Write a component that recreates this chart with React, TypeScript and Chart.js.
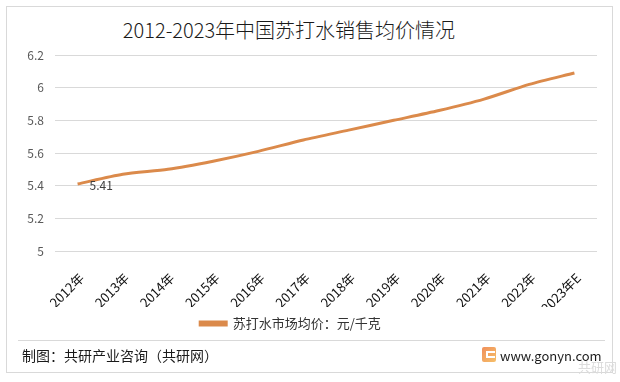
import React, { useEffect, useRef } from "react";
import { Chart, registerables } from "chart.js";

Chart.register(...registerables);

const titleText = "2012-2023年中国苏打水销售均价情况";
const categories = [
  "2012年", "2013年", "2014年", "2015年", "2016年", "2017年",
  "2018年", "2019年", "2020年", "2021年", "2022年", "2023年E",
];
const seriesName = "苏打水市场均价：元/千克";
const avgPrice = [5.41, 5.47, 5.5, 5.55, 5.61, 5.68, 5.74, 5.8, 5.86, 5.93, 6.02, 6.09];
const labeledIndices = [0];
const yTickValues = [5, 5.2, 5.4, 5.6, 5.8, 6, 6.2];
const sourceText = "制图：共研产业咨询（共研网）";
const siteText = "www.gonyn.com";
const badgeText = "共研网";

const FONT = "'Noto Sans CJK SC', 'Noto Sans', sans-serif";
const LINE_COLOR = "#DB8A4B";

const dataLabelPlugin = {
  id: "pointLabels",
  afterDatasetsDraw(chart: any) {
    const ctx = chart.ctx;
    const meta = chart.getDatasetMeta(0);
    ctx.save();
    ctx.font = `12px ${FONT}`;
    ctx.fillStyle = "#404040";
    ctx.textAlign = "left";
    ctx.textBaseline = "middle";
    labeledIndices.forEach((i) => {
      const el = meta.data[i];
      if (el) ctx.fillText(avgPrice[i].toFixed(2), el.x + 12, el.y + 1);
    });
    ctx.restore();
  },
};

export default function App() {
  const ref = useRef<HTMLCanvasElement | null>(null);

  useEffect(() => {
    document.body.style.margin = "0";
    if (!ref.current) return;
    const chart = new Chart(ref.current, {
      type: "line",
      data: {
        labels: categories,
        datasets: [
          {
            label: seriesName,
            data: avgPrice,
            borderColor: LINE_COLOR,
            backgroundColor: LINE_COLOR,
            borderWidth: 3,
            pointRadius: 0,
            tension: 0.25,
            fill: false,
          },
        ],
      },
      options: {
        animation: false,
        responsive: false,
        devicePixelRatio: 1,
        layout: { padding: { left: -16, right: 23, top: 55, bottom: 42 } },
        plugins: {
          title: { display: false },
          tooltip: { enabled: false },
          legend: {
            display: true,
            position: "bottom",
            labels: {
              boxWidth: 26,
              boxHeight: 3,
              padding: 10,
              color: "#333333",
              font: { family: FONT, size: 13 },
            },
          },
        },
        scales: {
          x: {
            offset: true,
            grid: { display: false },
            border: { display: false },
            ticks: {
              autoSkip: false,
              minRotation: 45,
              maxRotation: 45,
              padding: 11,
              labelOffset: 4,
              color: "#111111",
              font: { family: FONT, size: 13 },
            },
            afterFit(scale: any) {
              scale.height = 56;
            },
          },
          y: {
            min: 5,
            max: 6.2,
            border: { display: false },
            grid: { color: "#d9d9d9", lineWidth: 1, drawTicks: false },
            ticks: {
              padding: 11,
              color: "#595959",
              font: { family: FONT, size: 12 },
              callback: (v: any) => String(Number(Number(v).toFixed(1))),
            },
            afterBuildTicks(scale: any) {
              scale.ticks = yTickValues.map((v) => ({ value: v }));
            },
            afterFit(scale: any) {
              scale.width = 71;
            },
          },
        },
      },
      plugins: [dataLabelPlugin],
    });
    return () => chart.destroy();
  }, []);

  return (
    <div
      style={{
        position: "fixed",
        left: 0,
        top: 0,
        width: 620,
        height: 382,
        background: "#ffffff",
        fontFamily: FONT,
        overflow: "hidden",
      }}
    >
      <div
        style={{
          position: "absolute",
          left: 6,
          top: 6,
          width: 605,
          height: 365,
          border: "1px solid #d9d9d9",
        }}
      />
      <div
        style={{
          position: "absolute",
          left: 0,
          top: 16,
          width: 578,
          textAlign: "center",
          fontSize: 20,
          fontWeight: 300,
          color: "#1a1a1a",
          lineHeight: "28px",
        }}
      >
        {titleText}
      </div>
      <canvas
        ref={ref}
        width={620}
        height={382}
        style={{ position: "absolute", left: 0, top: 0, width: 620, height: 382 }}
      />
      <div
        style={{
          position: "absolute",
          left: 18,
          top: 340,
          width: 587,
          height: 1,
          background: "#d9d9d9",
        }}
      />
      <div
        style={{
          position: "absolute",
          left: 22,
          top: 345,
          fontSize: 14,
          color: "#1a1a1a",
          lineHeight: "20px",
        }}
      >
        {sourceText}
      </div>
      <div
        style={{
          position: "absolute",
          left: 482,
          top: 347,
          width: 14,
          height: 15,
          borderRadius: 2,
          background: "linear-gradient(135deg, #f08f5a, #f6c06a)",
        }}
      >
        <div
          style={{
            position: "absolute",
            left: 4,
            top: 4,
            width: 9,
            height: 7,
            borderTop: "2px solid #fff",
            borderLeft: "2px solid #fff",
            borderBottom: "2px solid #fff",
            boxSizing: "border-box",
          }}
        />
      </div>
      <div
        style={{
          position: "absolute",
          left: 500,
          top: 346,
          fontSize: 13,
          color: "#1a1a1a",
          lineHeight: "20px",
        }}
      >
        {siteText}
      </div>
      <div
        style={{
          position: "absolute",
          left: 578,
          top: 358,
          fontSize: 13,
          color: "#dcdcdc",
          lineHeight: "18px",
        }}
      >
        {badgeText}
      </div>
    </div>
  );
}
